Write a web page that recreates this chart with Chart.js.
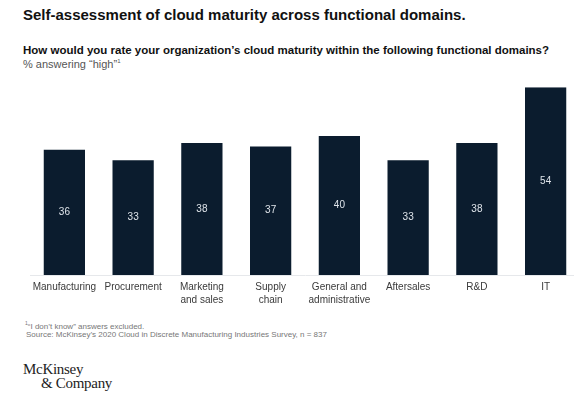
<!DOCTYPE html>
<html>
<head>
<meta charset="utf-8">
<script src="https://cdn.jsdelivr.net/npm/chart.js@4.4.1/dist/chart.umd.min.js"></script>
<style>
html, body { margin: 0; padding: 0; background: #fff; overflow: hidden; width: 574px; height: 396px; }
body { position: relative; font-family: "Liberation Sans", Arial, sans-serif; }
.t { position: absolute; white-space: nowrap; }
#titulo { left: 23px; top: 6px; font-size: 15px; font-weight: bold; color: #111; }
#pregunta { left: 23px; top: 44px; font-size: 11.5px; font-weight: bold; color: #111; }
#unidad { left: 23px; top: 58px; font-size: 11px; color: #555; }
#nota1 { left: 25px; top: 320px; font-size: 8px; color: #777; }
#nota2 { left: 26px; top: 330px; font-size: 8px; color: #777; }
#logo1 { left: 23px; top: 361px; font-family: "Liberation Serif", serif; font-size: 15px; color: #222; letter-spacing: -0.3px; }
#logo2 { left: 41px; top: 375px; font-family: "Liberation Serif", serif; font-size: 15px; color: #222; letter-spacing: -0.3px; }
#grafica { position: absolute; left: 0; top: 0; }
</style>
</head>
<body>
<div class="t" id="titulo">Self-assessment of cloud maturity across functional domains.</div>
<div class="t" id="pregunta">How would you rate your organization’s cloud maturity within the following functional domains?</div>
<div class="t" id="unidad">% answering “high”<sup style="font-size:6px">1</sup></div>
<div class="t" id="nota1"><sup style="font-size:5px">1</sup>“I don’t know” answers excluded.</div>
<div class="t" id="nota2">Source: McKinsey’s 2020 Cloud in Discrete Manufacturing Industries Survey, n = 837</div>
<div class="t" id="logo1">McKinsey</div>
<div class="t" id="logo2">&amp; Company</div>
<canvas id="grafica" width="600" height="320"></canvas>
<script>
const dominios = [
["Manufacturing"], ["Procurement"], ["Marketing", "and sales"], ["Supply", "chain"],
["General and", "administrative"], ["Aftersales"], ["R&D"], ["IT"]
];
const porcentajes = [36, 33, 38, 37, 40, 33, 38, 54];
const ejeMin = 0;
const ejeMax = 54;

const etiquetasValor = {
id: "etiquetasValor",
afterDatasetsDraw(chart) {
const ctx = chart.ctx;
const meta = chart.getDatasetMeta(0);
ctx.save();
ctx.fillStyle = "#dfe4ea";
ctx.font = "10px 'Liberation Sans', Arial, sans-serif";
ctx.textAlign = "center";
ctx.textBaseline = "middle";
meta.data.forEach((bar, i) => {
ctx.fillText(String(porcentajes[i]), bar.x, (bar.y + bar.base) / 2);
});
ctx.restore();
}
};

new Chart(document.getElementById("grafica"), {
type: "bar",
data: {
labels: dominios,
datasets: [{
data: porcentajes,
backgroundColor: "#0b1c2e",
borderWidth: 0,
barPercentage: 0.6,
categoryPercentage: 1
}]
},
options: {
responsive: false,
animation: false,
layout: { padding: { left: 30, right: 20, top: 87.3, bottom: 0 } },
plugins: { legend: { display: false }, tooltip: { enabled: false } },
scales: {
x: {
grid: { display: false, drawTicks: false },
border: { display: true, color: "#e6e8eb", width: 1 },
ticks: {
color: "#3a3a3a",
padding: 6,
maxRotation: 0,
autoSkip: false,
font: { family: "'Liberation Sans', Arial, sans-serif", size: 10, lineHeight: 1.25 }
},
afterFit: s => { s.height = 45; }
},
y: {
display: false,
min: ejeMin,
max: ejeMax
}
}
},
plugins: [etiquetasValor]
});
</script>
</body>
</html>
